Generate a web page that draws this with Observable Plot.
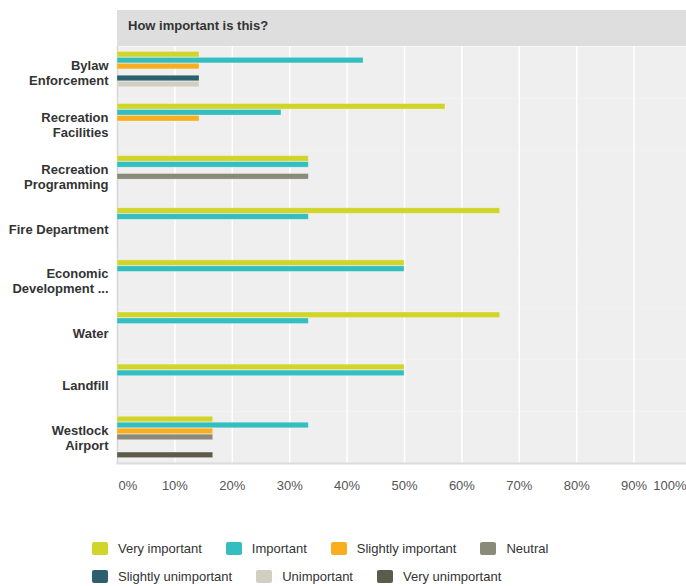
<!DOCTYPE html>
<html>
<head>
<meta charset="utf-8">
<script src="https://cdn.jsdelivr.net/npm/d3@7"></script>
<script src="https://cdn.jsdelivr.net/npm/@observablehq/plot@0.6"></script>
<style>
  html, body { margin: 0; padding: 0; background: #fff; overflow: hidden; }
  #wrap { position: relative; width: 686px; height: 586px; overflow: hidden; font-family: "Liberation Sans", Arial, sans-serif; }
  #title { position: absolute; left: 117px; top: 10px; width: 569px; height: 36px; background: #dedede;
           font-weight: bold; font-size: 13px; color: #333; line-height: 32px; padding-left: 11px; box-sizing: border-box; }
  #chart { position: absolute; left: 0; top: 46px; }
  #legend { position: absolute; left: 92px; top: 538px; width: 480px; display: flex; flex-wrap: wrap; row-gap: 8px; column-gap: 24px; }
  .item { display: flex; align-items: center; font-size: 13px; color: #333; height: 20px; }
  .sw { width: 16px; height: 13px; border-radius: 2px; margin-right: 10px; }
</style>
</head>
<body>
<div id="wrap">
  <div id="title">How important is this?</div>
  <div id="chart"></div>
  <div id="legend"></div>
</div>
<script>
const categories = ["Bylaw\nEnforcement", "Recreation\nFacilities", "Recreation\nProgramming", "Fire Department",
  "Economic\nDevelopment ...", "Water", "Landfill", "Westlock\nAirport"];
const series = ["Very important", "Important", "Slightly important", "Neutral",
  "Slightly unimportant", "Unimportant", "Very unimportant"];
const colors = ["#d1d52b", "#34bec0", "#f8ae1e", "#8a8a78", "#2d5f6f", "#d1cfc2", "#5d5b4b"];
// percentage per category, one array per series (in category order)
const veryImportant       = [14.29, 57.14, 33.33, 66.67, 50, 66.67, 50, 16.67];
const important           = [42.86, 28.57, 33.33, 33.33, 50, 33.33, 50, 33.33];
const slightlyImportant   = [14.29, 14.29, 0, 0, 0, 0, 0, 16.67];
const neutral             = [0, 0, 33.33, 0, 0, 0, 0, 16.67];
const slightlyUnimportant = [14.29, 0, 0, 0, 0, 0, 0, 0];
const unimportant         = [14.29, 0, 0, 0, 0, 0, 0, 0];
const veryUnimportant     = [0, 0, 0, 0, 0, 0, 0, 16.67];
const xTicks = [0, 10, 20, 30, 40, 50, 60, 70, 80, 90, 100];

const seriesValues = [veryImportant, important, slightlyImportant, neutral, slightlyUnimportant, unimportant, veryUnimportant];
const rows = [];
categories.forEach((c, i) => series.forEach((s, j) => rows.push({category: c, series: s, value: seriesValues[j][i]})));
const bars = rows.filter(d => d.value > 0);

const innerTicks = xTicks.filter(t => t > 0 && t < 100);
const fmt = d => d + "%";

const chart = Plot.plot({
  width: 686,
  height: 457,
  marginLeft: 117,
  marginRight: 0,
  marginTop: 0,
  marginBottom: 40,
  style: {fontFamily: "'Liberation Sans', Arial, sans-serif", fontSize: "13px", color: "#333", overflow: "hidden"},
  x: {domain: [0, 100], range: [117, 691]},
  fy: {domain: categories, padding: 0, round: false, label: null},
  y: {domain: series, paddingInner: 0, paddingOuter: 0.87, round: false, axis: null},
  color: {domain: series, range: colors},
  marks: [
    Plot.frame({fill: "#efefef", stroke: "none"}),
    Plot.gridX(innerTicks, {stroke: "#fff", strokeOpacity: 1, strokeWidth: 1.5}),
    Plot.ruleX([0], {stroke: "#d6d6d6", strokeWidth: 1.5}),
    Plot.barX(bars, {fy: "category", y: "series", x: "value", fill: "series",
      stroke: "#fff", strokeOpacity: 0.35, strokeWidth: 0.8, insetTop: 0.2, insetBottom: 0.2}),
    Plot.frame({anchor: "bottom", stroke: "#dcdcdc", strokeWidth: 2, facetAnchor: "bottom"}),
    Plot.axisFy({anchor: "left", tickSize: 0, tickPadding: 9, fontWeight: "bold", fill: "#333", fontSize: 13, lineHeight: 1.15, label: null}),
    Plot.axisX(innerTicks, {tickSize: 0, tickPadding: 17, tickFormat: fmt, fill: "#555", fontSize: 13, label: null}),
    Plot.axisX([0], {tickSize: 0, tickPadding: 17, tickFormat: fmt, fill: "#555", fontSize: 13, textAnchor: "start", dx: 1, label: null}),
    Plot.axisX([100], {tickSize: 0, tickPadding: 17, tickFormat: fmt, fill: "#555", fontSize: 13, textAnchor: "end", dx: -5, label: null})
  ]
});
document.getElementById("chart").appendChild(chart);

const legend = document.getElementById("legend");
series.forEach((s, i) => {
  const it = document.createElement("div");
  it.className = "item";
  const sw = document.createElement("span");
  sw.className = "sw";
  sw.style.background = colors[i];
  const tx = document.createElement("span");
  tx.textContent = s;
  it.appendChild(sw); it.appendChild(tx);
  legend.appendChild(it);
});
</script>
</body>
</html>
